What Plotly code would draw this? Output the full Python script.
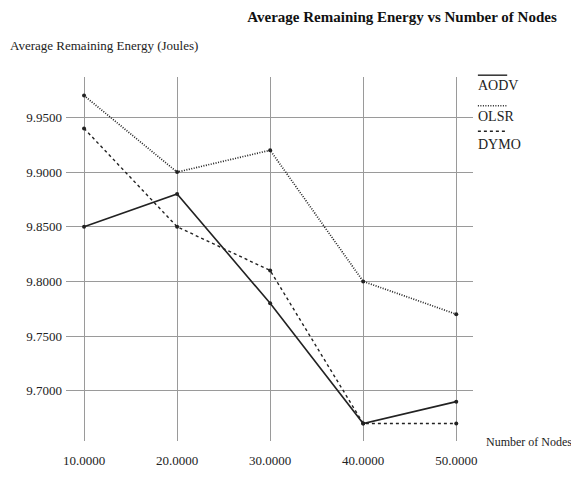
import plotly.graph_objects as go

nodes = [10, 20, 30, 40, 50]
aodv = [9.85, 9.88, 9.78, 9.67, 9.69]
olsr = [9.97, 9.90, 9.92, 9.80, 9.77]
dymo = [9.94, 9.85, 9.81, 9.67, 9.67]
x_ticks = [10, 20, 30, 40, 50]
x_tick_labels = ["10.0000", "20.0000", "30.0000", "40.0000", "50.0000"]
y_ticks = [9.70, 9.75, 9.80, 9.85, 9.90, 9.95]
y_tick_labels = ["9.7000", "9.7500", "9.8000", "9.8500", "9.9000", "9.9500"]
series_names = ["AODV", "OLSR", "DYMO"]

FONT = "Liberation Serif"
INK = "#222222"
styles = {
    "AODV": dict(dash="solid", width=1.6),
    "OLSR": dict(dash="1px,1.5px", width=1.7),
    "DYMO": dict(dash="3px,3px", width=1.4),
}

fig = go.Figure()
for name, vals in zip(series_names, [aodv, olsr, dymo]):
    fig.add_trace(go.Scatter(
        x=nodes, y=vals, name=name, mode="lines+markers",
        line=dict(color=INK, **styles[name]),
        marker=dict(color=INK, size=4),
        showlegend=False,
    ))

# custom legend: line sample drawn above each label
legend_line_y = [1.005, 0.921, 0.851]
legend_text_y = [0.978, 0.891, 0.815]
for name, ly, ty in zip(series_names, legend_line_y, legend_text_y):
    fig.add_shape(type="line", xref="paper", yref="paper",
                  x0=1.012, x1=1.084, y0=ly, y1=ly,
                  line=dict(color=INK, width=1.4, dash=styles[name]["dash"]))
    fig.add_annotation(text=name, xref="paper", yref="paper", x=1.008, y=ty,
                       xanchor="left", yanchor="middle", showarrow=False,
                       font=dict(family=FONT, size=14, color=INK))

fig.add_annotation(text="Average Remaining Energy (Joules)", xref="paper", yref="paper",
                   x=-0.142, y=1.087, xanchor="left", yanchor="middle", showarrow=False,
                   font=dict(family=FONT, size=13, color=INK))
fig.add_annotation(text="Number of Nodes", xref="paper", yref="paper",
                   x=1.026, y=-0.003, xanchor="left", yanchor="middle", showarrow=False,
                   font=dict(family=FONT, size=12, color=INK))

fig.update_layout(
    width=571, height=472,
    margin=dict(l=58, r=106, t=69, b=35),
    paper_bgcolor="white", plot_bgcolor="white",
    title=dict(text="<b>Average Remaining Energy vs Number of Nodes</b>",
               x=0.961, xanchor="right", xref="container", y=0.981, yanchor="middle",
               font=dict(family=FONT, size=15, color="#111111")),
    font=dict(family=FONT, size=13, color=INK),
)
fig.update_xaxes(range=[8.06, 51.8], tickvals=x_ticks, ticktext=x_tick_labels,
                 showgrid=True, gridcolor="#9a9a9a", gridwidth=1, zeroline=False,
                 showline=False, ticks="", ticklabelstandoff=10)
fig.update_yaxes(range=[9.654, 9.987], tickvals=y_ticks, ticktext=y_tick_labels,
                 showgrid=True, gridcolor="#9a9a9a", gridwidth=1, zeroline=False,
                 showline=False, ticks="", ticklabelstandoff=3)

fig.write_html("out.html")
